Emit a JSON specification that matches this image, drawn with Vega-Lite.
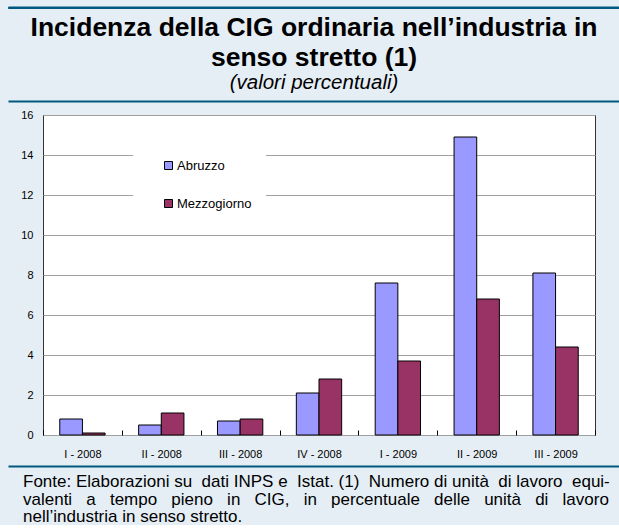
{
  "$schema": "https://vega.github.io/schema/vega-lite/v6.json",
  "background": "#E5EEF5",
  "padding": {"left": 7, "top": 6, "right": 0, "bottom": 0},
  "spacing": 6,
  "resolve": {"legend": {"color": "independent"}},
  "config": {
    "view": {"stroke": null},
    "font": "Liberation Sans"
  },
  "datasets": {
    "bars": [
      {"trimestre": "I - 2008", "serie": "Abruzzo", "valore": 0.8},
      {"trimestre": "I - 2008", "serie": "Mezzogiorno", "valore": 0.1},
      {"trimestre": "II - 2008", "serie": "Abruzzo", "valore": 0.5},
      {"trimestre": "II - 2008", "serie": "Mezzogiorno", "valore": 1.1},
      {"trimestre": "III - 2008", "serie": "Abruzzo", "valore": 0.7},
      {"trimestre": "III - 2008", "serie": "Mezzogiorno", "valore": 0.8},
      {"trimestre": "IV - 2008", "serie": "Abruzzo", "valore": 2.1},
      {"trimestre": "IV - 2008", "serie": "Mezzogiorno", "valore": 2.8},
      {"trimestre": "I - 2009", "serie": "Abruzzo", "valore": 7.6},
      {"trimestre": "I - 2009", "serie": "Mezzogiorno", "valore": 3.7},
      {"trimestre": "II - 2009", "serie": "Abruzzo", "valore": 14.9},
      {"trimestre": "II - 2009", "serie": "Mezzogiorno", "valore": 6.8},
      {"trimestre": "III - 2009", "serie": "Abruzzo", "valore": 8.1},
      {"trimestre": "III - 2009", "serie": "Mezzogiorno", "valore": 4.4}
    ],
    "empty": []
  },
  "vconcat": [
    {
      "width": 612,
      "height": 1,
      "view": {"fill": "#00587E", "stroke": "#00587E", "strokeWidth": 1},
      "title": {
        "text": ["Incidenza della CIG ordinaria nell’industria in", "senso stretto (1)"],
        "subtitle": "(valori percentuali)",
        "orient": "bottom",
        "anchor": "middle",
        "baseline": "top",
        "font": "Liberation Sans",
        "fontSize": 26.5,
        "fontWeight": "bold",
        "lineHeight": 29.5,
        "color": "black",
        "subtitleFont": "Liberation Sans",
        "subtitleFontSize": 20.5,
        "subtitleFontStyle": "italic",
        "subtitleColor": "black",
        "subtitlePadding": 2,
        "offset": 7
      },
      "data": {"name": "empty"},
      "mark": {"type": "point"},
      "encoding": {
        "x": {"field": "v", "type": "quantitative", "scale": {"domain": [0, 1]},
          "axis": {"orient": "top", "title": null, "labels": false, "ticks": false, "grid": false, "domain": true, "domainColor": "#00587E", "domainWidth": 2}}
      }
    },
    {
      "width": 612,
      "height": 1,
      "title": {"text": " ", "fontSize": 1, "offset": 0},
      "data": {"name": "empty"},
      "mark": {"type": "point"},
      "encoding": {
        "x": {"field": "v", "type": "quantitative", "scale": {"domain": [0, 1]},
          "axis": {"orient": "top", "title": null, "labels": false, "ticks": false, "grid": false, "domain": true, "domainColor": "#00587E", "domainWidth": 2}}
      }
    },
    {
      "spacing": 0,
      "resolve": {"legend": {"color": "independent"}},
      "hconcat": [
        {
          "width": 1,
          "height": 1,
          "data": {"name": "empty"},
          "mark": {"type": "point"}
        },
        {
          "width": 552,
          "height": 320,
          "view": {"stroke": "#333333", "strokeWidth": 1, "fill": "white"},
          "data": {"name": "bars"},
          "mark": {"type": "bar", "stroke": "black", "strokeWidth": 1},
          "encoding": {
            "x": {
              "field": "trimestre", "type": "nominal", "sort": null,
              "scale": {"paddingInner": 0, "paddingOuter": 0},
              "axis": {"title": null, "labelAngle": 0, "labelFontSize": 11, "labelFont": "Liberation Sans", "labelColor": "black", "domain": false, "ticks": true, "tickBand": "extent", "tickSize": -5, "tickColor": "black", "labelPadding": 18, "grid": false}
            },
            "xOffset": {
              "field": "serie", "type": "nominal", "sort": ["Abruzzo", "Mezzogiorno"],
              "scale": {"paddingInner": 0, "paddingOuter": 0.74}
            },
            "y": {
              "field": "valore", "type": "quantitative",
              "scale": {"domain": [0, 16], "nice": false},
              "axis": {"title": null, "values": [0, 2, 4, 6, 8, 10, 12, 14, 16], "grid": true, "gridColor": "#A0A0A0", "gridWidth": 1, "domain": false, "ticks": false, "labelPadding": 10, "labelFontSize": 11, "labelFont": "Liberation Sans", "labelColor": "black", "minExtent": 33.5}
            },
            "color": {
              "field": "serie", "type": "nominal",
              "scale": {"domain": ["Abruzzo", "Mezzogiorno"], "range": ["#9999FF", "#993366"]},
              "legend": {"orient": "none", "legendX": 90, "legendY": 30, "title": null, "fillColor": "white", "padding": 14, "symbolType": "square", "symbolSize": 64, "symbolStrokeColor": "black", "symbolStrokeWidth": 1, "symbolOpacity": 1, "labelFontSize": 13, "labelFont": "Liberation Sans", "labelColor": "black", "rowPadding": 24, "symbolOffset": 15, "labelOffset": 2, "labelExpr": "datum.label + '\u00a0\u00a0\u00a0\u00a0'"}
            }
          }
        }
      ]
    },
    {
      "width": 612,
      "height": 1,
      "title": {
        "text": [
          "Fonte: Elaborazioni su\u00a0 dati INPS e\u00a0 Istat. (1)\u00a0 Numero di unità\u00a0 di lavoro\u00a0 equi-",
          "valenti\u00a0\u00a0\u00a0a\u00a0\u00a0\u00a0tempo\u00a0\u00a0\u00a0pieno\u00a0\u00a0\u00a0in\u00a0\u00a0\u00a0CIG,\u00a0\u00a0\u00a0in\u00a0\u00a0\u00a0percentuale\u00a0\u00a0\u00a0delle\u00a0\u00a0\u00a0unità\u00a0\u00a0\u00a0di\u00a0\u00a0\u00a0lavoro",
          "nell’industria in senso stretto."
        ],
        "orient": "bottom",
        "anchor": "start",
        "align": "left",
        "dx": 15,
        "font": "Liberation Sans",
        "fontSize": 17,
        "fontWeight": "normal",
        "lineHeight": 17.5,
        "color": "black",
        "baseline": "top",
        "offset": 7
      },
      "data": {"name": "empty"},
      "mark": {"type": "point"},
      "encoding": {
        "x": {"field": "v", "type": "quantitative", "scale": {"domain": [0, 1]},
          "axis": {"orient": "top", "title": null, "labels": false, "ticks": false, "grid": false, "domain": true, "domainColor": "#00587E", "domainWidth": 2}}
      }
    }
  ]
}
